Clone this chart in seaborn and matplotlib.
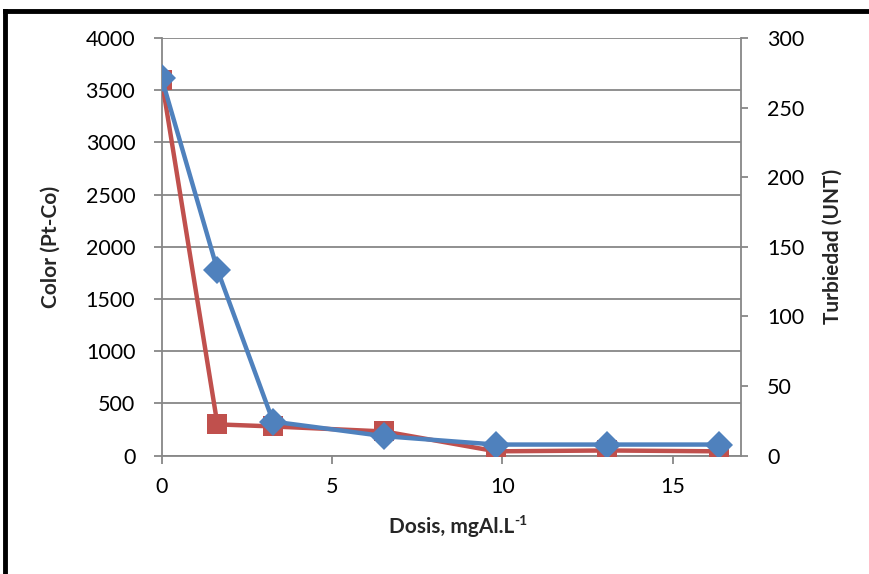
import matplotlib
matplotlib.use("Agg")
import matplotlib.pyplot as plt
import seaborn as sns
import pandas as pd
from matplotlib.lines import Line2D

# Data
dosis = [0, 1.635, 3.27, 6.54, 9.81, 13.08, 16.35]
color_ptco = [3600, 300, 280, 232, 42, 50, 42]
turbiedad_unt = [271, 133.5, 24.5, 14, 8, 8, 8]

left_ticks = [0, 500, 1000, 1500, 2000, 2500, 3000, 3500, 4000]
right_ticks = [0, 50, 100, 150, 200, 250, 300]
x_ticks = [0, 5, 10, 15]

RED = "#C0504D"
BLUE = "#4F81BD"
GRID = "#878787"

sns.set_style("white")
plt.rcParams["font.family"] = ["Lato", "DejaVu Sans"]

df = pd.DataFrame({"dosis": dosis, "color": color_ptco, "turb": turbiedad_unt})

fig = plt.figure(figsize=(8.7, 5.74), dpi=100)
ax = fig.add_axes([0.1859, 0.2061, 0.6655, 0.7277])
ax2 = ax.twinx()

sns.lineplot(data=df, x="dosis", y="color", ax=ax, color=RED, lw=3.2,
             marker="s", markersize=14.5, markeredgewidth=0, markerfacecolor=RED,
             zorder=3)
sns.lineplot(data=df, x="dosis", y="turb", ax=ax2, color=BLUE, lw=3.2,
             marker="D", markersize=14, markeredgewidth=0, markerfacecolor=BLUE,
             zorder=3)

ax.set_xlim(0, 17)
ax.set_ylim(0, 4000)
ax2.set_ylim(0, 300)
ax.set_xticks(x_ticks)
ax.set_yticks(left_ticks)
ax2.set_yticks(right_ticks)

ax.yaxis.grid(True, color=GRID, lw=1.3)
ax.set_axisbelow(True)

for a in (ax, ax2):
    for s in a.spines.values():
        s.set_visible(False)
ax.spines["left"].set_visible(True)
ax.spines["bottom"].set_visible(True)
ax2.spines["right"].set_visible(True)
for s in (ax.spines["left"], ax.spines["bottom"], ax2.spines["right"]):
    s.set_color(GRID)
    s.set_linewidth(1.3)

ax.tick_params(axis="y", direction="out", length=6, width=1.3, color=GRID,
               labelsize=15.5, pad=13, left=True, labelcolor="black")
ax.tick_params(axis="x", direction="out", length=6, width=1.3, color=GRID,
               labelsize=15.5, pad=9, bottom=True, labelcolor="black")
ax2.tick_params(axis="y", direction="out", length=5, width=1.3, color=GRID,
                labelsize=15.5, pad=14, right=True, labelcolor="black")

ax.set_xlabel("Dosis, mgAl.L", fontsize=15, fontweight="bold", labelpad=15)
ax.set_ylabel("Color (Pt-Co)", fontsize=15, fontweight="bold", labelpad=18)
ax2.set_ylabel("Turbiedad (UNT)", fontsize=15, fontweight="bold", labelpad=13)

# superscript -1 after the x label
ax.annotate("-1", xy=(1, 1), xycoords=ax.xaxis.label, xytext=(0.5, 1.5),
            textcoords="offset points", fontsize=10, fontweight="bold",
            ha="left", va="top")

# partial black frame (left and top edges of the chart border)
fig.add_artist(Line2D([5 / 870, 5 / 870], [0, 1 - 11 / 574], color="black", lw=3.5,
                      transform=fig.transFigure, solid_capstyle="projecting"))
fig.add_artist(Line2D([5 / 870, 1], [1 - 11 / 574, 1 - 11 / 574], color="black", lw=3.5,
                      transform=fig.transFigure, solid_capstyle="projecting"))

fig.savefig("out.png", dpi=100)
